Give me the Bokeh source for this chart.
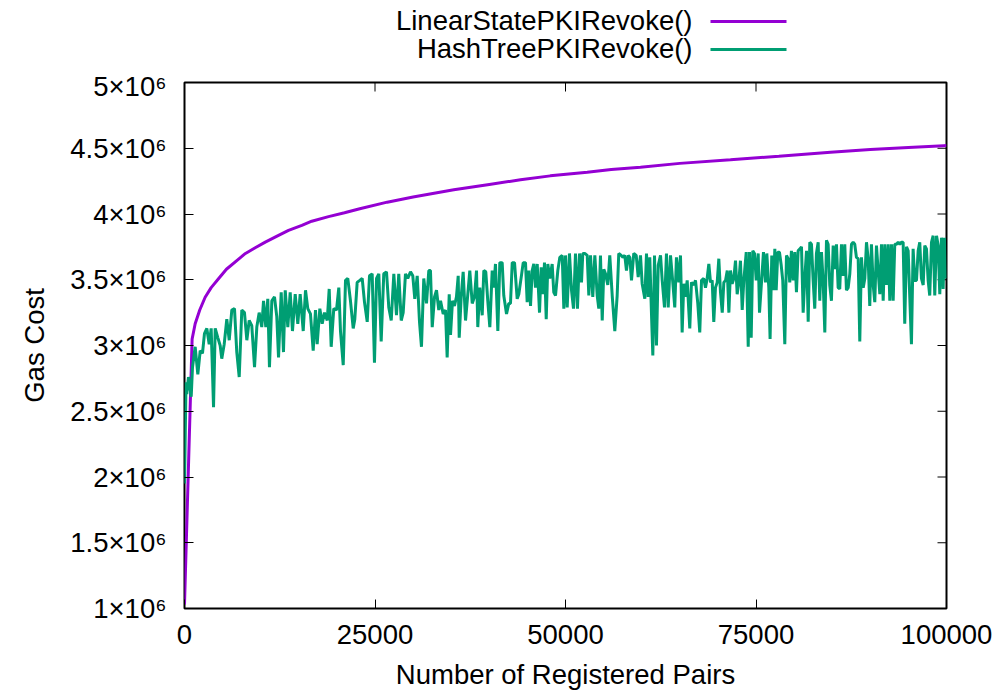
import math
from bokeh.plotting import figure
from bokeh.models import Range1d, FixedTicker
from bokeh.layouts import column
from bokeh.core.properties import value
from bokeh.embed import file_html
from bokeh.resources import INLINE

# ---------------- data ----------------
linear_x = [0, 1000, 1400, 2000, 2710, 3500, 4460, 5500, 6860, 8000, 9280, 10600, 12340,
            13650, 15400, 16700, 18900, 21000, 23000, 26600, 30000, 35340, 40000, 44090,
            48000, 52850, 56000, 59840, 65000, 71650, 78000, 84780, 90000, 95000, 99650, 100000]
linear_y_m = [1.03, 3.05, 3.165, 3.27, 3.367, 3.44, 3.507, 3.58, 3.646, 3.70, 3.743, 3.786, 3.837,
              3.875, 3.913, 3.945, 3.98, 4.01, 4.04, 4.09, 4.13, 4.184, 4.225, 4.26,
              4.29, 4.318, 4.338, 4.356, 4.385, 4.412, 4.44, 4.47, 4.49, 4.505, 4.519, 4.52]

hash_x = [0, 200, 300, 520, 880, 1050, 1400, 1750, 2060, 2360, 2620, 2930, 3240, 3500,
          3810, 4030, 4370, 4680, 4890, 5210, 5550, 5870, 6210, 6560, 6860, 7180, 7520,
          7870, 8180, 8490, 8830, 9190, 9490, 9800, 10140, 10370, 10670, 10930, 11150,
          11460, 11810, 12110, 12340, 12690, 12990, 13220, 13560, 13870, 14170, 14530,
          14870, 15180, 15580, 15880, 16180, 16530, 16890, 17190, 17410, 17760, 18070,
          18370, 18730, 18990, 19250, 19590, 19950, 20250, 20470, 20830, 21130, 21430,
          21780, 22140, 22350, 22660, 23000, 23320, 23620, 23980, 24280, 24630, 24930,
          25200, 25500, 25810, 26150, 26510, 26810, 27130, 27470, 27820, 28120, 28440,
          28700, 29000, 29300, 29660, 29960, 30220, 30540, 30840, 31100, 31400, 31760,
          32060, 32280, 32510, 32810, 33070, 33370, 33600, 33950, 34250, 34470, 34740,
          34910, 35170, 35430, 35690, 35920, 36050, 36310, 36570, 36880, 37180, 37440,
          37760, 38060, 38320, 38490, 38750, 39070, 39280, 39540, 39800, 40070, 40380,
          40590, 40810, 41120, 41380, 41690, 41900, 42260, 42560, 42780, 43010, 43310,
          43660, 43870, 44190, 44450, 44750, 44970, 45180, 45410, 45630, 45840, 46060,
          46290, 46590, 46810, 47070, 47240, 47470, 47680, 47940, 48250, 48460, 48690,
          48990, 49250, 49570, 49780, 50000, 50220, 50520, 50790, 51050, 51310, 51570,
          51840, 52100, 52270, 52530, 52850, 53060, 53280, 53580, 53850, 54160, 54370,
          54590, 54820, 55030, 55250, 55550, 55810, 56130, 56470, 56780, 56990, 57310,
          57520, 57780, 58000, 58230, 58440, 58660, 58960, 59280, 59540, 59840, 60060,
          60410, 60630, 60850, 61060, 61290, 61460, 61680, 61940, 62170, 62470, 62690,
          62990, 63250, 63480, 63780, 64080, 64340, 64560, 64870, 65090, 65310, 65520,
          65740, 65970, 66310, 66530, 66830, 67060, 67360, 67620, 67850, 68150, 68370,
          68590, 68810, 69030, 69250, 69460, 69680, 69910, 70120, 70340, 70570, 70780,
          71000, 71230, 71440, 71650, 71870, 72090, 72310, 72530, 72740, 72960, 73190,
          73400, 73720, 73980, 74150, 74370, 74580, 74800, 75030, 75290, 75460, 75980,
          76240, 76420, 76680, 76850, 77070, 77300, 77470, 77650, 77860, 78080, 78310,
          78510, 78780, 79000, 79220, 79430, 79650, 79880, 80090, 80310, 80530, 80750,
          80970, 81190, 81400, 81630, 81850, 82060, 82280, 82500, 82710, 82930, 83160,
          83370, 83590, 83810, 84030, 84250, 84470, 84680, 84900, 85130, 85340, 85560,
          85780, 85990, 86220, 86440, 86650, 86870, 87100, 87310, 87530, 87750, 87960,
          88180, 88410, 88620, 88840, 89070, 89280, 89500, 89720, 89930, 90150, 90380,
          90590, 90810, 91040, 91250, 91470, 91690, 91900, 92120, 92350, 92560, 92780,
          93000, 93210, 93440, 93660, 93870, 94090, 94310, 94520, 94750, 94970, 95180,
          95400, 95620, 95830, 96060, 96280, 96490, 96710, 96940, 97150, 97370, 97590,
          97800, 98030, 98250, 98460, 98690, 98910, 99120, 99340, 99560, 99730, 99870]

hash_y_m = [1.95, 2.72, 2.63, 2.76, 2.61, 2.835, 2.99, 2.78, 2.96, 2.94, 3.09, 3.13, 3.01, 3.13,
            2.53, 3.13, 3.06, 3.00, 2.90, 3.01, 3.20, 3.04, 3.27, 3.28, 2.95, 2.76, 3.27,
            3.25, 3.04, 3.19, 3.15, 2.835, 3.14, 3.25, 3.14, 3.34, 3.14, 3.355, 2.835,
            3.34, 3.37, 3.22, 2.91, 3.405, 2.95, 3.42, 3.14, 3.405, 3.11, 3.39,
            3.165, 3.39, 3.11, 3.42, 3.28, 3.24, 2.96, 3.27, 3.01, 3.28, 3.165,
            3.25, 3.19, 3.43, 2.99, 3.28, 3.27, 3.44, 3.11, 2.85, 3.495, 3.51,
            3.34, 3.13, 3.20, 3.48, 3.495, 3.51, 3.33, 3.18, 3.53, 3.545, 2.87,
            3.51, 3.545, 3.03, 3.545, 3.56, 3.29, 3.19, 3.545, 3.23, 3.545, 3.19,
            3.25, 3.545, 3.51, 3.56, 3.53, 3.355, 3.53, 3.18, 2.99, 3.51, 3.32,
            3.57, 3.57, 3.14, 3.37, 3.42, 3.27, 3.34, 3.24, 3.27, 2.91, 3.39,
            3.08, 3.34, 3.30, 3.37, 3.53, 3.06, 3.37, 3.56, 3.19, 3.39, 3.57,
            3.32, 3.37, 3.57, 3.14, 3.44, 3.23, 3.57, 3.56, 3.34, 3.14, 3.57,
            3.44, 3.62, 3.11, 3.63, 3.63, 3.38, 3.24, 3.32, 3.32, 3.63, 3.63,
            3.355, 3.39, 3.52, 3.63, 3.63, 3.33, 3.57, 3.30, 3.57, 3.62, 3.44,
            3.62, 3.25, 3.595, 3.39, 3.63, 3.20, 3.62, 3.51, 3.62, 3.405, 3.38,
            3.57, 3.67, 3.685, 3.28, 3.685, 3.29, 3.70, 3.42, 3.28, 3.70, 3.28,
            3.70, 3.48, 3.70, 3.70, 3.685, 3.38, 3.685, 3.37, 3.685, 3.38, 3.28,
            3.685, 3.19, 3.58, 3.545, 3.46, 3.685, 3.38, 3.11, 3.38, 3.70, 3.685,
            3.67, 3.685, 3.57, 3.685, 3.67, 3.495, 3.70, 3.685, 3.52, 3.685, 3.47,
            3.355, 3.70, 3.37, 3.67, 3.23, 2.925, 3.685, 3.00, 3.61, 3.685, 3.495,
            3.29, 3.70, 3.29, 3.685, 3.48, 3.29, 3.67, 3.48, 3.685, 3.10, 3.47,
            3.37, 3.495, 3.13, 3.48, 3.46, 3.495, 3.32, 3.10, 3.495, 3.51, 3.44,
            3.51, 3.62, 3.48, 3.495, 3.18, 3.44, 3.48, 3.66, 3.405, 3.25, 3.48,
            3.495, 3.57, 3.25, 3.57, 3.47, 3.51, 3.645, 3.39, 3.48, 3.645, 3.27,
            3.495, 3.71, 2.99, 3.71, 3.06, 3.72, 3.70, 3.495, 3.70, 3.25, 3.71,
            3.48, 3.70, 3.44, 3.05, 3.685, 3.42, 3.735, 3.42, 3.71, 3.71, 3.61,
            3.495, 3.01, 3.685, 3.66, 3.48, 3.72, 3.495, 3.71, 3.405, 3.72, 3.735,
            3.75, 3.25, 3.51, 3.72, 3.18, 3.785, 3.77, 3.495, 3.28, 3.70, 3.785,
            3.34, 3.71, 3.495, 3.10, 3.80, 3.77, 3.46, 3.34, 3.76, 3.58, 3.77,
            3.44, 3.43, 3.77, 3.53, 3.77, 3.42, 3.44, 3.545, 3.77, 3.785, 3.77,
            3.67, 3.66, 3.03, 3.67, 3.44, 3.51, 3.785, 3.66, 3.30, 3.77, 3.46,
            3.33, 3.76, 3.56, 3.39, 3.77, 3.34, 3.77, 3.46, 3.77, 3.34, 3.77,
            3.34, 3.77, 3.77, 3.785, 3.77, 3.785, 3.785, 3.165, 3.75, 3.72, 3.37,
            3.01, 3.735, 3.495, 3.495, 3.72, 3.785, 3.51, 3.46, 3.76, 3.735, 3.495,
            3.38, 3.785, 3.835, 3.38, 3.835, 3.76, 3.39, 3.82, 3.43, 3.82, 3.51]

x_ticks = [0, 25000, 50000, 75000, 100000]
x_tick_labels = ["0", "25000", "50000", "75000", "100000"]
y_ticks = [1000000, 1500000, 2000000, 2500000, 3000000, 3500000, 4000000, 4500000, 5000000]
y_tick_labels = ["1×10⁶", "1.5×10⁶", "2×10⁶", "2.5×10⁶", "3×10⁶", "3.5×10⁶", "4×10⁶", "4.5×10⁶", "5×10⁶"]
series_names = ["LinearStatePKIRevoke()", "HashTreePKIRevoke()"]
series_colors = ["#9400D3", "#009E73"]

FONT = "Liberation Sans"
FS = "27.5px"
W = 999
KEY_H = 70
MAIN_H = 625
FRAME_L, FRAME_R = 184, 946   # page x of the plot frame (the key is aligned to it)

linear_y = [v * 1e6 for v in linear_y_m]
hash_y = [v * 1e6 for v in hash_y_m]
x_min, x_max = x_ticks[0], x_ticks[-1]
y_min, y_max = y_ticks[0], y_ticks[-1]

# ---------------- key (gnuplot style: text, then line sample) ----------------
key = figure(width=W, height=KEY_H, output_backend="svg", toolbar_location=None, title=None,
             x_range=Range1d(FRAME_L, FRAME_R), y_range=Range1d(KEY_H, 0),
             x_axis_type=None, y_axis_type=None,
             min_border_left=FRAME_L, min_border_right=W - FRAME_R,
             min_border_top=0, min_border_bottom=0)
key.outline_line_color = None
key_rows = [20, 48]
key.text(x=[692, 692], y=key_rows, text=series_names, text_align="right",
         text_baseline="middle", text_font=value(FONT), text_font_size=FS, text_color="black")
key.segment(x0=[710, 710], y0=[r + 1 for r in key_rows], x1=[786, 786], y1=[r + 1 for r in key_rows],
            line_color=series_colors, line_width=3)

# ---------------- main plot ----------------
p = figure(width=W, height=MAIN_H, output_backend="svg", toolbar_location=None, title=None,
           x_range=Range1d(x_min, x_max), y_range=Range1d(y_min, y_max),
           min_border_left=FRAME_L, min_border_right=W - FRAME_R, min_border_top=12,
           min_border_bottom=87,
           x_axis_label="Number of Registered Pairs", y_axis_label="Gas Cost")

p.xgrid.grid_line_color = None
p.ygrid.grid_line_color = None
p.outline_line_color = "black"
p.outline_line_width = 2
p.outline_line_alpha = 1

for ax in (p.xaxis[0], p.yaxis[0]):
    ax.axis_line_color = None
    ax.major_tick_in = 9
    ax.major_tick_out = 0
    ax.minor_tick_line_color = None
    ax.major_tick_line_color = "black"
    ax.major_tick_line_width = 1
    ax.major_label_text_font = FONT
    ax.major_label_text_font_size = FS
    ax.major_label_text_color = "black"
    ax.axis_label_text_font = FONT
    ax.axis_label_text_font_size = FS
    ax.axis_label_text_font_style = "normal"
    ax.axis_label_text_color = "black"

p.xaxis[0].ticker = FixedTicker(ticks=x_ticks)
p.xaxis[0].major_label_overrides = {t: s for t, s in zip(x_ticks, x_tick_labels)}
p.xaxis[0].major_label_standoff = 16
p.xaxis[0].axis_label_standoff = 12
p.yaxis[0].ticker = FixedTicker(ticks=y_ticks)
p.yaxis[0].major_label_overrides = {t: s for t, s in zip(y_ticks, y_tick_labels)}
p.yaxis[0].major_label_standoff = 18
p.yaxis[0].axis_label_standoff = 17

# mirrored inward ticks on the right and top borders
p.ray(x=[x_max] * len(y_ticks), y=y_ticks, length=9, length_units="screen",
      angle=math.pi, line_color="black", line_width=1)
p.ray(x=x_ticks, y=[y_max] * len(x_ticks), length=9, length_units="screen",
      angle=-math.pi / 2, line_color="black", line_width=1)

p.line(linear_x, linear_y, line_color=series_colors[0], line_width=3)
p.line(hash_x, hash_y, line_color=series_colors[1], line_width=3)

layout = column(key, p, spacing=0)
open("out.html", "w").write(file_html(layout, INLINE))
